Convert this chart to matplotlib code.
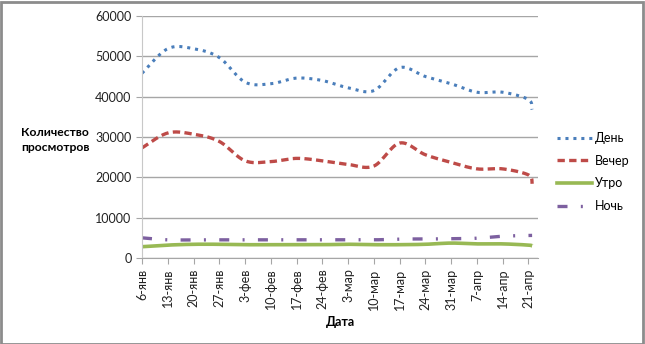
import numpy as np
import matplotlib
matplotlib.use("Agg")
import matplotlib.pyplot as plt
from matplotlib.lines import Line2D
from matplotlib.patches import Rectangle

plt.rcParams['font.family'] = ['Lato', 'Noto Sans', 'DejaVu Sans']

# days since 6-янв
days = [0, 7, 14, 21, 28, 35, 42, 49, 56, 63, 70, 77, 84, 91, 98, 105, 106]
tick_days = [0, 7, 14, 21, 28, 35, 42, 49, 56, 63, 70, 77, 84, 91, 98, 105]
tick_labels = ['6-янв', '13-янв', '20-янв', '27-янв', '3-фев', '10-фев', '17-фев', '24-фев',
               '3-мар', '10-мар', '17-мар', '24-мар', '31-мар', '7-апр', '14-апр', '21-апр']

den = [45800, 51900, 51900, 49700, 43600, 43200, 44600, 44000, 42200, 41500, 47200, 45000,
       43200, 41100, 41100, 39300, 36800]
vecher = [27300, 31000, 30700, 28900, 24100, 23900, 24700, 24100, 23200, 22800, 28500, 25600,
          23700, 22100, 22100, 20600, 18400]
utro = [2800, 3200, 3400, 3400, 3300, 3300, 3300, 3300, 3400, 3300, 3300, 3400, 3700, 3500,
        3500, 3200, 3000]
noch = [5000, 4500, 4500, 4500, 4500, 4500, 4500, 4500, 4500, 4500, 4700, 4700, 4800, 4900,
        5400, 5600, 5600]


def smooth(x, y, n=30):
    x = np.asarray(x, float); y = np.asarray(y, float)
    xs, ys = [], []
    for i in range(len(x) - 1):
        p0 = np.array([x[i - 1] if i > 0 else x[i], y[i - 1] if i > 0 else y[i]])
        p1 = np.array([x[i], y[i]])
        p2 = np.array([x[i + 1], y[i + 1]])
        p3 = np.array([x[i + 2], y[i + 2]]) if i + 2 < len(x) else p2
        c1 = p1 + (p2 - p0) / 6.0
        c2 = p2 - (p3 - p1) / 6.0
        t = np.linspace(0, 1, n, endpoint=(i == len(x) - 2))
        b = ((1 - t) ** 3)[:, None] * p1 + (3 * (1 - t) ** 2 * t)[:, None] * c1 + \
            (3 * (1 - t) * t ** 2)[:, None] * c2 + (t ** 3)[:, None] * p2
        xs.extend(b[:, 0]); ys.extend(b[:, 1])
    return np.array(xs), np.array(ys)


fig = plt.figure(figsize=(6.45, 3.44), dpi=100)
ax = fig.add_axes([142 / 645, 1 - 258 / 344, (538 - 142) / 645, (258 - 16) / 344])

styles = [
    ('День', den, dict(color='#4a7ebb', linestyle=(0, (1, 1.6)), linewidth=2.2)),
    ('Вечер', vecher, dict(color='#be4b48', linestyle=(0, (2.2, 1.3)), linewidth=2.4)),
    ('Утро', utro, dict(color='#98b954', linestyle='-', linewidth=2.6)),
    ('Ночь', noch, dict(color='#7d60a0', linestyle=(0, (3, 4, 0.6, 4)), linewidth=2.4)),
]
handles = []
for name, vals, st in styles:
    sx, sy = smooth(days, vals)
    ax.plot(sx, sy, solid_capstyle='butt', dash_capstyle='butt', **st)
    handles.append(Line2D([], [], label=name, **st))

ax.set_xlim(0, 107.6)
ax.set_ylim(0, 60000)
ax.set_yticks([0, 10000, 20000, 30000, 40000, 50000, 60000])
ax.set_xticks(tick_days)
ax.set_xticklabels(tick_labels, rotation=90)
ax.grid(axis='y', color='#a6a6a6', linewidth=1)
ax.set_axisbelow(True)
for s in ['top', 'right']:
    ax.spines[s].set_visible(False)
ax.spines['left'].set_color('#c8c8c8')
ax.spines['bottom'].set_color('#a6a6a6')
ax.tick_params(axis='both', colors='#a6a6a6', labelcolor='#222222', labelsize=9, length=4)

fig.text(55 / 645, 1 - 140 / 344, 'Количество\nпросмотров', ha='center', va='center',
         fontsize=8.7, fontweight='bold', linespacing=1.35)
fig.text(340 / 645, 1 - 322 / 344, 'Дата', ha='center', va='center', fontsize=9,
         fontweight='bold')

leg = fig.legend(handles=handles, loc='upper left', bbox_to_anchor=(552 / 645, 1 - 127 / 344),
                 frameon=False, fontsize=9, handlelength=2.8, handletextpad=0.2,
                 labelspacing=0.85, borderaxespad=0)

fig.patches.append(Rectangle((0.5 / 645, 0.5 / 344), 642 / 645, 342 / 344,
                             transform=fig.transFigure, fill=False, edgecolor='#8c8c8c',
                             linewidth=2))
fig.savefig('out.png', dpi=100)
